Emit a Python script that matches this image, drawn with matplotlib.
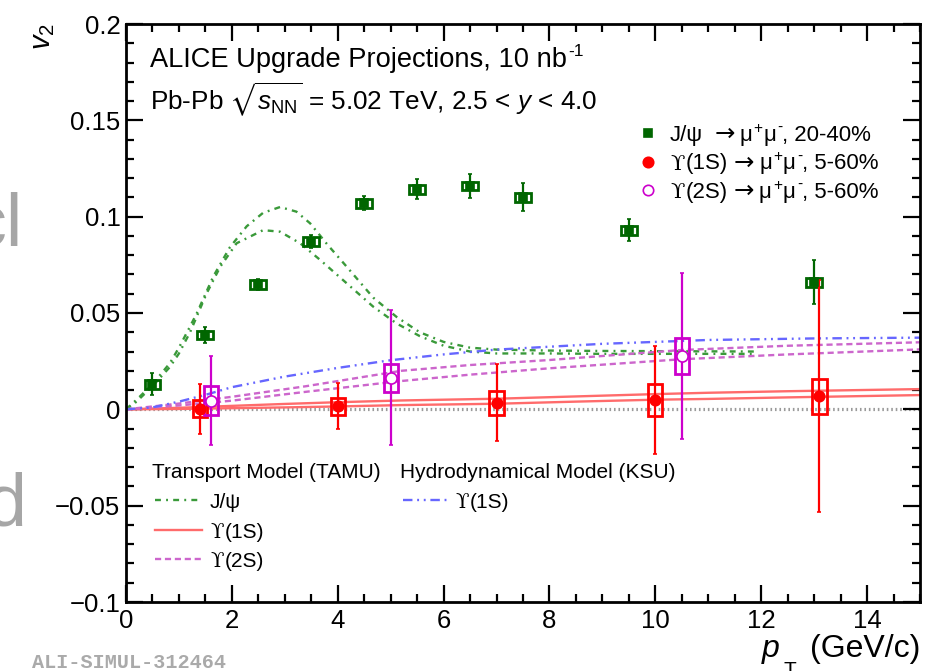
import matplotlib
matplotlib.use("Agg")
import matplotlib.pyplot as plt
from matplotlib.lines import Line2D
from matplotlib.patches import Rectangle
from matplotlib.ticker import MultipleLocator

plt.rcParams["font.family"] = ["Liberation Sans", "DejaVu Sans"]
plt.rcParams["mathtext.fontset"] = "custom"
plt.rcParams["mathtext.rm"] = "Liberation Sans"
plt.rcParams["mathtext.it"] = "Liberation Sans:italic"
plt.rcParams["mathtext.bf"] = "Liberation Sans:bold"
plt.rcParams["mathtext.fallback"] = "stixsans"

GREEN_PT, RED_PT, MAG_PT = "#006600", "#ff0000", "#cc00cc"
GREEN_M, RED_M, VIOL_M, BLUE_M = "#3a9a3a", "#ff6b6b", "#cc66cc", "#6666ff"

# J/psi -> mu mu, 20-40%
jpsi_pt = [0.5, 1.5, 2.5, 3.5, 4.5, 5.5, 6.5, 7.5, 9.5, 13.0]
jpsi_v2 = [0.0131, 0.0386, 0.0649, 0.087, 0.107, 0.1143, 0.1159, 0.110, 0.093, 0.066]
jpsi_stat = [0.0056, 0.0043, 0.003, 0.0034, 0.0036, 0.0052, 0.006, 0.0073, 0.0058, 0.0114]
jpsi_syst = [0.0023, 0.0023, 0.0023, 0.0023, 0.0023, 0.0023, 0.0023, 0.0023, 0.0023, 0.0023]

# Upsilon(1S) -> mu mu, 5-60%
ups1_pt = [1.4, 4.0, 7.0, 10.0, 13.1]
ups1_v2 = [0.0003, 0.0017, 0.0034, 0.0048, 0.0069]
ups1_stat = [0.013, 0.012, 0.020, 0.028, 0.060]
ups1_syst = [0.0044, 0.0044, 0.0062, 0.0083, 0.0091]

# Upsilon(2S) -> mu mu, 5-60%
ups2_pt = [1.6, 5.0, 10.5]
ups2_v2 = [0.0045, 0.0164, 0.0278]
ups2_stat = [0.023, 0.035, 0.043]
ups2_syst = [0.0075, 0.0073, 0.0093]

# TAMU transport model bands (upper / lower edge)
tamu_jpsi_hi_pt = [0, 0.2, 0.5, 0.83, 1.0, 1.21, 1.34, 1.65, 1.96, 2.28, 2.59, 2.91, 3.22, 3.48,
                   3.79, 4.17, 4.67, 5.11, 5.55, 6.0, 6.5, 7.0, 8.0, 9.0, 10.0, 11.0, 11.9]
tamu_jpsi_hi = [0, 0.005, 0.013, 0.024, 0.032, 0.043, 0.050, 0.069, 0.084, 0.095, 0.102, 0.105,
                0.1026, 0.0965, 0.086, 0.074, 0.058, 0.048, 0.040, 0.035, 0.032, 0.031, 0.0305,
                0.0303, 0.0302, 0.0301, 0.030]
tamu_jpsi_lo_pt = [0, 0.2, 0.5, 0.83, 1.0, 1.21, 1.52, 1.78, 2.09, 2.59, 2.91, 3.29, 3.67, 4.17,
                   4.67, 5.11, 5.55, 6.0, 6.5, 7.0, 8.0, 9.0, 10.0, 11.0, 11.9]
tamu_jpsi_lo = [0, 0.004, 0.012, 0.022, 0.029, 0.040, 0.060, 0.074, 0.0862, 0.093, 0.0922, 0.0862,
                0.0775, 0.0654, 0.0533, 0.0446, 0.038, 0.033, 0.030, 0.029, 0.029, 0.0288,
                0.0288, 0.0288, 0.0288]

tamu_ups1_pt = [0, 1, 2, 3, 4, 5.2, 7, 8.5, 10, 11, 12.5, 15]
tamu_ups1_hi = [0, 0.0008, 0.0018, 0.0028, 0.0037, 0.0046, 0.0055, 0.0067, 0.0079, 0.0086, 0.0094, 0.0105]
tamu_ups1_lo = [0, 0.0002, 0.0006, 0.0010, 0.0015, 0.0022, 0.0029, 0.0040, 0.0050, 0.0054, 0.0062, 0.0074]

tamu_ups2_pt = [0, 1, 2, 3.4, 5.2, 6.5, 8, 10.5, 12.5, 15]
tamu_ups2_hi = [0, 0.003, 0.0065, 0.012, 0.020, 0.023, 0.0256, 0.0308, 0.033, 0.0348]
tamu_ups2_lo = [0, 0.002, 0.0045, 0.0091, 0.0147, 0.018, 0.0213, 0.026, 0.0285, 0.0311]

# KSU hydrodynamical model
ksu_ups1_pt = [0, 0.5, 1.0, 1.5, 2.0, 3.0, 4.0, 5.0, 6.0, 7.0, 8.0, 9.0, 10.0, 11.0, 13.0, 15.0]
ksu_ups1 = [0, 0.001, 0.004, 0.0075, 0.0115, 0.017, 0.0215, 0.0255, 0.0285, 0.031, 0.0325,
            0.034, 0.035, 0.036, 0.0368, 0.0372]

W, H = 941, 671
LS_JPSI = (0, (2.5, 2.2, 0.8, 2.2))
LS_KSU = (0, (4, 2, 0.8, 2, 0.8, 2))
LS_UPS2 = (0, (2.6, 1.6))
SANS, SYM, ARR = "Liberation Sans", "DejaVu Serif", "DejaVu Sans"


def fx(px):
    return px / W


def fy(py):
    return 1 - py / H


fig = plt.figure(figsize=(W / 100, H / 100), dpi=100)
renderer = fig.canvas.get_renderer()
ax = fig.add_axes([fx(126), fy(602), 794 / W, 578 / H])
ax.set_xlim(0, 15)
ax.set_ylim(-0.1, 0.2)

ax.axhline(0, color="#9a9a9a", lw=2.3, ls=(0, (0.5, 0.9)), zorder=1)

# model curves
ax.plot(tamu_jpsi_hi_pt, tamu_jpsi_hi, color=GREEN_M, lw=1.7, ls=LS_JPSI, zorder=2)
ax.plot(tamu_jpsi_lo_pt, tamu_jpsi_lo, color=GREEN_M, lw=1.7, ls=LS_JPSI, zorder=2)
for y in (tamu_ups1_hi, tamu_ups1_lo):
    ax.plot(tamu_ups1_pt, y, color=RED_M, lw=1.7, zorder=2)
for y in (tamu_ups2_hi, tamu_ups2_lo):
    ax.plot(tamu_ups2_pt, y, color=VIOL_M, lw=1.7, ls=LS_UPS2, zorder=2)
ax.plot(ksu_ups1_pt, ksu_ups1, color=BLUE_M, lw=1.7, ls=LS_KSU, zorder=2)


def draw_points(pt, v2, stat, syst, col, half_w, marker, ms, mfc):
    for x, y, s in zip(pt, v2, syst):
        ax.add_patch(Rectangle((x - half_w, y - s), 2 * half_w, 2 * s, fill=False,
                               ec=col, lw=2.0, zorder=4))
    ax.errorbar(pt, v2, yerr=stat, fmt=marker, color=col, ms=ms, mfc=mfc, mec=col, mew=1.2,
                elinewidth=1.6, capsize=1.5, capthick=1.6, zorder=5)


draw_points(jpsi_pt, jpsi_v2, jpsi_stat, jpsi_syst, GREEN_PT, 0.15, "s", 5.5, GREEN_PT)
draw_points(ups1_pt, ups1_v2, ups1_stat, ups1_syst, RED_PT, 0.135, "o", 7.5, RED_PT)
draw_points(ups2_pt, ups2_v2, ups2_stat, ups2_syst, MAG_PT, 0.135, "o", 8, "white")

# ROOT-like frame and ticks
for sp in ax.spines.values():
    sp.set_linewidth(2.0)
ax.xaxis.set_major_locator(MultipleLocator(2))
ax.xaxis.set_minor_locator(MultipleLocator(0.5))
ax.set_yticks([-0.1, -0.05, 0, 0.05, 0.1, 0.15, 0.2])
ax.set_yticklabels(["\u22120.1", "\u22120.05", "0", "0.05", "0.1", "0.15", "0.2"])
ax.yaxis.set_minor_locator(MultipleLocator(0.01))
ax.tick_params(which="both", direction="in", top=True, right=True, width=1.6, labelsize=18.5)
ax.tick_params(which="major", length=12)
ax.tick_params(which="minor", length=5.5)
ax.tick_params(axis="y", pad=4)
ax.tick_params(axis="x", pad=5)


def run_text(x_px, base_px, segs):
    """Lay out text pieces one after another; each piece is
    (text, size, family, style, rise_px, gap_px)."""
    x = x_px
    for s, size, fam, style, rise, gap in segs:
        t = fig.text(fx(x), fy(base_px - rise), s, fontsize=size, family=fam, style=style,
                     va="baseline")
        x += t.get_window_extent(renderer).width + gap


# axis titles
fig.text(fx(762), fy(657), "p", fontsize=23, style="italic", va="baseline")
fig.text(fx(783), fy(676), "T", fontsize=15, va="baseline")
fig.text(fx(920), fy(657), "(GeV/c)", fontsize=23, ha="right", va="baseline")
fig.text(fx(43), fy(23), r"$v_{2}$", ha="center", va="top", rotation=90, fontsize=21)

# header
run_text(150, 67, [("ALICE Upgrade Projections, 10 nb", 19.6, SANS, "normal", 0, 1),
                   ("-1", 12.5, SANS, "normal", 11, 0)])
fig.text(fx(150), fy(110), r"Pb-Pb $\sqrt{s_{\rm NN}}$ = 5.02 TeV, 2.5 < $y$ < 4.0",
         fontsize=18.8, va="baseline")


def decay_label(particle, centr, size):
    if particle == "jpsi":
        head = [("J/\u03c8", size, SANS, "normal", 0, 11)]
    else:
        head = [("\u03d2", size * 0.95, SYM, "normal", 0, 1),
                (particle, size, SANS, "normal", 0, 6)]
    return head + [("\u2192", size * 1.1, ARR, "normal", 0, 5),
                   ("\u03bc", size, SANS, "normal", 0, 1),
                   ("+", size * 0.7, SANS, "normal", 8, 1),
                   ("\u03bc", size, SANS, "normal", 0, 1),
                   ("-", size * 0.7, SANS, "normal", 9, 0),
                   (", " + centr, size, SANS, "normal", 0, 0)]


# data legend
leg_rows = [("s", GREEN_PT, GREEN_PT, 6, "jpsi", "20-40%"),
            ("o", RED_PT, RED_PT, 7.5, "(1S)", "5-60%"),
            ("o", MAG_PT, "white", 7.5, "(2S)", "5-60%")]
for i, (mk, col, fc, ms, part, centr) in enumerate(leg_rows):
    base = 141 + 28.5 * i
    fig.add_artist(Line2D([fx(648)], [fy(base - 8)], marker=mk, ms=ms, color=col, mfc=fc,
                          mew=1.2, ls="none"))
    run_text(670, base, decay_label(part, centr, 16))

# model legends
fig.text(fx(152), fy(478), "Transport Model (TAMU)", fontsize=15, va="baseline")
fig.text(fx(400), fy(478), "Hydrodynamical Model (KSU)", fontsize=15, va="baseline")
model_rows = [(GREEN_M, LS_JPSI, None, 155, 210, 508),
              (RED_M, "-", "(1S)", 155, 210, 538),
              (VIOL_M, LS_UPS2, "(2S)", 155, 210, 567),
              (BLUE_M, LS_KSU, "(1S)", 403, 455, 508)]
for col, ls, state, x0, xt, base in model_rows:
    fig.add_artist(Line2D([fx(x0), fx(x0 + 47)], [fy(base - 8), fy(base - 8)], color=col,
                          lw=1.7, ls=ls))
    if state is None:
        run_text(xt, base, [("J/\u03c8", 15, SANS, "normal", 0, 0)])
    else:
        run_text(xt, base, [("\u03d2", 14.3, SYM, "normal", 0, 1),
                            (state, 15, SANS, "normal", 0, 0)])

# slide remnants and figure id
fig.text(fx(23), fy(245), "cl", fontsize=53, color="#a6a6a6", ha="right", va="baseline")
fig.text(fx(27), fy(525), "d", fontsize=53, color="#a6a6a6", ha="right", va="baseline")
fig.text(fx(32), fy(668), "ALI-SIMUL-312464", fontsize=14.5, color="#aaaaaa",
         family="Liberation Mono", weight="bold", va="baseline")

fig.savefig("out.png", dpi=100)
